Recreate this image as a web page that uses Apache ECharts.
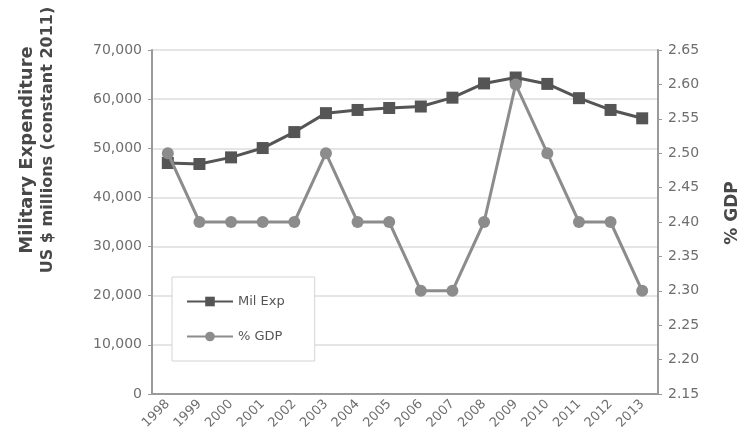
<!DOCTYPE html>
<html>
<head>
<meta charset="utf-8">
<script src="https://cdn.jsdelivr.net/npm/echarts@6/dist/echarts.min.js"></script>
<style>
html, body { margin: 0; padding: 0; background: #fff; }
#chart { width: 748px; height: 445px; }
</style>
</head>
<body>
<div id="chart"></div>
<script>
// Years on the category axis
const years = ['1998','1999','2000','2001','2002','2003','2004','2005',
               '2006','2007','2008','2009','2010','2011','2012','2013'];
// Military expenditure, US $ millions (constant 2011)
const milExp = [47000, 46800, 48150, 50050, 53300, 57150, 57800, 58200,
                58500, 60300, 63200, 64400, 63100, 60200, 57800, 56100];
// Military expenditure as share of GDP (%)
const gdpShare = [2.50, 2.40, 2.40, 2.40, 2.40, 2.50, 2.40, 2.40,
                  2.30, 2.30, 2.40, 2.60, 2.50, 2.40, 2.40, 2.30];

const font = 'DejaVu Sans';
const axisGrey = '#9a9a9a';
const labelGrey = '#6e6e6e';
const titleGrey = '#484848';

const chart = echarts.init(document.getElementById('chart'));
chart.setOption({
  backgroundColor: '#fff',
  animation: false,
  textStyle: { fontFamily: font },
  grid: { left: 152, right: 90, top: 50, bottom: 51 },
  legend: {
    orient: 'vertical',
    left: 172,
    top: 277,
    padding: [18, 30, 18, 14],
    itemGap: 22,
    itemWidth: 46,
    itemHeight: 12,
    borderColor: '#d4d4d4',
    borderWidth: 1,
    backgroundColor: '#fff',
    textStyle: { fontFamily: font, fontSize: 13, color: '#555' },
    data: ['Mil Exp', '% GDP']
  },
  xAxis: {
    type: 'category',
    data: years,
    boundaryGap: true,
    axisLine: { lineStyle: { color: axisGrey, width: 2 } },
    axisTick: { alignWithLabel: true, length: 4, lineStyle: { color: axisGrey } },
    axisLabel: { rotate: 45, color: labelGrey, fontSize: 13, margin: 8, fontFamily: font }
  },
  yAxis: [
    {
      type: 'value',
      min: 0, max: 70000, interval: 10000,
      axisLine: { show: true, lineStyle: { color: axisGrey, width: 2 } },
      axisTick: { show: true, length: 4, lineStyle: { color: axisGrey } },
      splitLine: { lineStyle: { color: '#dcdcdc', width: 1.5 } },
      axisLabel: {
        color: labelGrey, fontSize: 14, margin: 10, fontFamily: font,
        formatter: v => v.toLocaleString('en-US')
      }
    },
    {
      type: 'value',
      min: 2.15, max: 2.65, interval: 0.05,
      position: 'right',
      axisLine: { show: true, lineStyle: { color: axisGrey, width: 2 } },
      axisTick: { show: true, length: 4, lineStyle: { color: axisGrey } },
      splitLine: { show: false },
      axisLabel: {
        color: labelGrey, fontSize: 14, margin: 10, fontFamily: font,
        formatter: v => v.toFixed(2)
      }
    }
  ],
  graphic: [
    {
      type: 'text', rotation: Math.PI / 2,
      x: 27, y: 150,
      style: {
        text: 'Military Expenditure', fill: titleGrey,
        font: 'bold 18px "DejaVu Sans"', align: 'center', verticalAlign: 'middle'
      }
    },
    {
      type: 'text', rotation: Math.PI / 2,
      x: 48, y: 140,
      style: {
        text: 'US $ millions (constant 2011)', fill: titleGrey,
        font: 'bold 16px "DejaVu Sans"', align: 'center', verticalAlign: 'middle'
      }
    },
    {
      type: 'text', rotation: Math.PI / 2,
      x: 733, y: 213,
      style: {
        text: '% GDP', fill: titleGrey,
        font: 'bold 17px "DejaVu Sans"', align: 'center', verticalAlign: 'middle'
      }
    }
  ],
  series: [
    {
      name: 'Mil Exp',
      type: 'line',
      yAxisIndex: 0,
      data: milExp,
      symbol: 'rect',
      symbolSize: 12,
      color: '#555555',
      lineStyle: { width: 3, color: '#555555' },
      itemStyle: { color: '#555555' },
      z: 3
    },
    {
      name: '% GDP',
      type: 'line',
      yAxisIndex: 1,
      data: gdpShare,
      symbol: 'circle',
      symbolSize: 12,
      color: '#8c8c8c',
      lineStyle: { width: 3, color: '#8c8c8c' },
      itemStyle: { color: '#8c8c8c' },
      z: 4
    }
  ]
});
</script>
</body>
</html>
